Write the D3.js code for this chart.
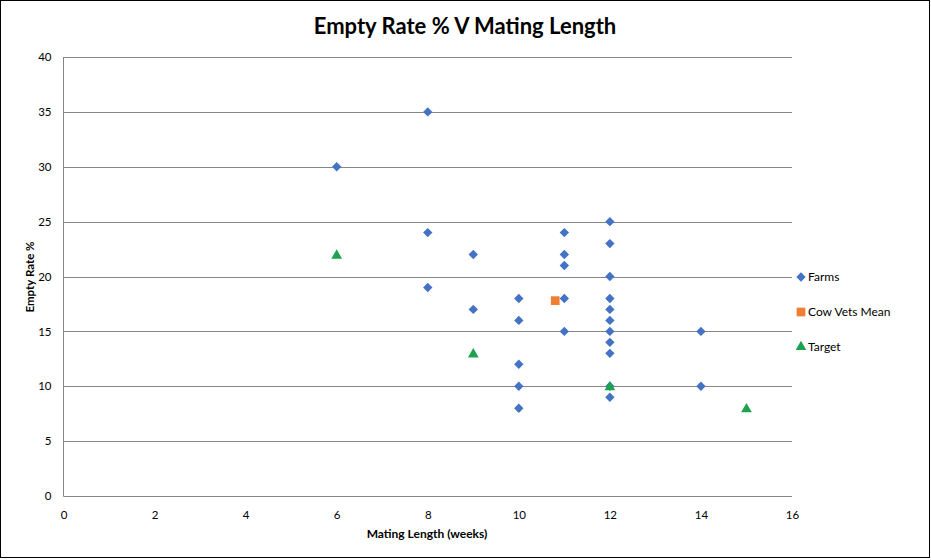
<!DOCTYPE html>
<html><head><meta charset="utf-8">
<script src="https://cdn.jsdelivr.net/npm/d3@7"></script>
<style>body{margin:0;background:#fff;} svg{display:block;font-family:Lato,"Open Sans",sans-serif;}</style>
</head><body>
<svg id="c" width="931" height="560"></svg>
<script>
const farmsX = [6, 8, 8, 8, 9, 9, 10, 10, 10, 10, 10, 11, 11, 11, 11, 11, 12, 12, 12, 12, 12, 12, 12, 12, 12, 12, 12, 14, 14];
const farmsY = [30, 35, 24, 19, 22, 17, 18, 16, 12, 10, 8, 24, 22, 21, 18, 15, 25, 23, 20, 18, 17, 16, 15, 14, 13, 10, 9, 15, 10];
const meanX = [10.8];
const meanY = [17.8];
const targetX = [6, 9, 12, 15];
const targetY = [22, 13, 10, 8];
const xTicks = [0, 2, 4, 6, 8, 10, 12, 14, 16];
const yTicks = [0, 5, 10, 15, 20, 25, 30, 35, 40];
const seriesNames = ["Farms", "Cow Vets Mean", "Target"];

const svg = d3.select("#c");
svg.append("rect").attr("x", 0.5).attr("y", 0.5).attr("width", 929).attr("height", 557)
  .attr("fill", "#fff").attr("stroke", "#000").attr("stroke-width", 1);

const L = 63.5, R = 792, T = 57, B = 496;
const x = d3.scaleLinear().domain([0, 16]).range([L, R]);
const y = d3.scaleLinear().domain([0, 40]).range([B, T]);

// gridlines
svg.append("g").selectAll("line").data(yTicks.filter(d => d > 0)).join("line")
  .attr("x1", L).attr("x2", R).attr("y1", d => Math.round(y(d)) + 0.5).attr("y2", d => Math.round(y(d)) + 0.5)
  .attr("stroke", "#868686").attr("stroke-width", 1);

// y axis
const ya = svg.append("g").attr("transform", `translate(${L},0)`)
  .call(d3.axisLeft(y).tickValues(yTicks).tickSize(0).tickPadding(12));
ya.select(".domain").attr("stroke", "#868686").attr("d", `M0,${T}V${B + 0.5}`);
ya.selectAll("text").attr("font-size", 11.5).attr("fill", "#000").attr("font-family", "Lato");

// x axis
const xa = svg.append("g").attr("transform", `translate(0,${B + 0.5})`)
  .call(d3.axisBottom(x).tickValues(xTicks).tickSize(0).tickPadding(14));
xa.select(".domain").attr("stroke", "#868686").attr("d", `M${L},0H${R}`);
xa.selectAll("text").attr("font-size", 11.5).attr("fill", "#000").attr("font-family", "Lato");

// titles
svg.append("text").attr("x", 465).attr("y", 34).attr("text-anchor", "middle")
  .attr("font-size", 22).attr("font-weight", "bold").attr("font-family", "Lato").text("Empty Rate % V Mating Length");
svg.append("text").attr("x", 427).attr("y", 538).attr("text-anchor", "middle")
  .attr("font-size", 12).attr("font-weight", "bold").text("Mating Length (weeks)");
svg.append("text").attr("transform", "translate(34,277) rotate(-90)").attr("text-anchor", "middle")
  .attr("font-size", 11.5).attr("font-weight", "bold").text("Empty Rate %");

const colors = ["#4472C4", "#F07F33", "#1DA250"];
const diamond = d3.symbol().type(d3.symbolDiamond2).size(56);
const square = d3.symbol().type(d3.symbolSquare).size(76);
const tri = d3.symbol().type(d3.symbolTriangle).size(50);

svg.append("g").selectAll("path").data(farmsX.map((d, i) => [d, farmsY[i]])).join("path")
  .attr("transform", d => `translate(${x(d[0])},${y(d[1])})`).attr("d", diamond).attr("fill", colors[0]);
svg.append("g").selectAll("path").data(meanX.map((d, i) => [d, meanY[i]])).join("path")
  .attr("transform", d => `translate(${x(d[0])},${y(d[1])})`).attr("d", square).attr("fill", colors[1]);
svg.append("g").selectAll("path").data(targetX.map((d, i) => [d, targetY[i]])).join("path")
  .attr("transform", d => `translate(${x(d[0])},${y(d[1]) + 1})`).attr("d", tri).attr("fill", colors[2]);

// legend
const shapes = [diamond, square, tri];
const lg = svg.append("g");
seriesNames.forEach((n, i) => {
  const ly = 277 + i * 35;
  lg.append("path").attr("transform", `translate(801,${ly})`).attr("d", shapes[i]).attr("fill", colors[i]);
  lg.append("text").attr("x", 808).attr("y", ly + 4).attr("font-size", 12).attr("font-family", "Lato").text(n);
});
</script>
</body></html>
